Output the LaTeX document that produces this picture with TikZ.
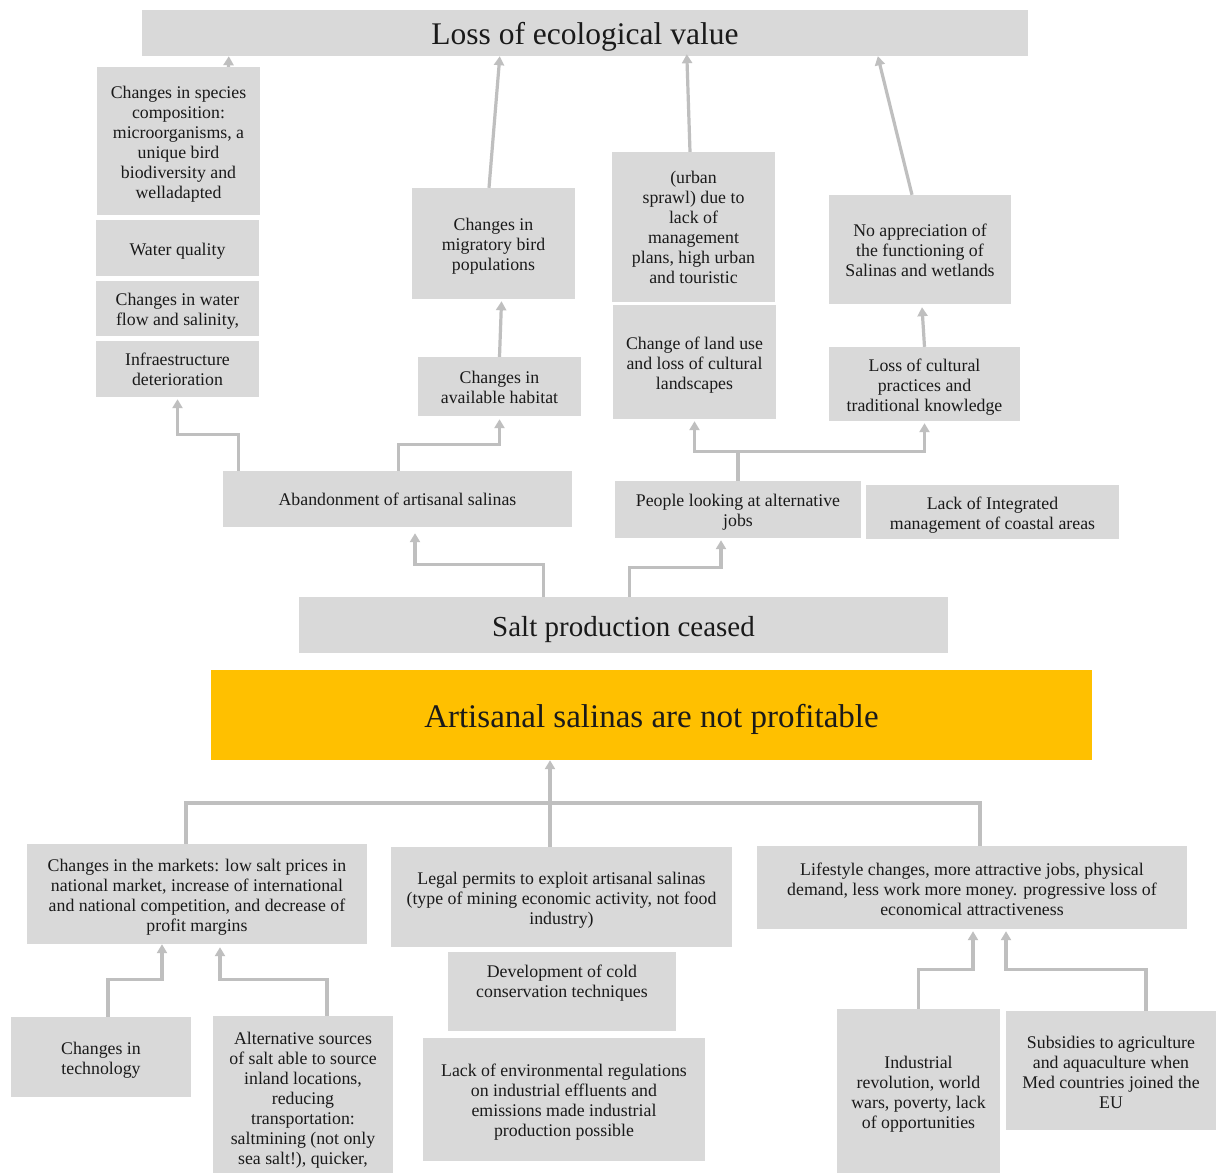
\documentclass[tikz,border=0pt]{standalone}
\usepackage{fontspec}
\setmainfont{Liberation Serif}
\usetikzlibrary{arrows.meta}
\definecolor{boxgray}{HTML}{D9D9D9}
\definecolor{linkgray}{HTML}{BFBFBF}
\definecolor{coreorange}{HTML}{FFC000}
\definecolor{ink}{HTML}{1A1A1A}
% invisible strut that gives the first text line some extra head room
\newcommand{\cardlift}[1][18.5]{\rule{0pt}{#1pt}}
\tikzset{
  card/.style={fill=boxgray, draw=none, inner sep=2pt, align=center, text=ink,
               font=\fontsize{17.8}{20}\selectfont},
  bigcard/.style={card, font=\fontsize{31.5}{34}\selectfont},
  corecard/.style={card, fill=coreorange, font=\fontsize{33}{36}\selectfont},
  wh/.style 2 args={minimum width=#1pt, minimum height=#2pt},
  link/.style={draw=linkgray, line width=3.2pt},
  flow/.style={link, -{Triangle[width=10pt,length=9pt]}},
}
\begin{document}
\begin{tikzpicture}[x=1pt, y=-1pt]
\useasboundingbox[fill=white] (0,0) rectangle (1216,1173);

% ---- top level consequence
\node[bigcard, wh={886}{46}] (eco) at (585,33) {\cardlift[30]Loss of ecological value};

% ---- left column of impacts
\node[card, wh={163}{148}] (species) at (178.5,141) {\cardlift Changes in species\\composition:\\microorganisms, a\\unique bird\\biodiversity and\\welladapted};
\node[card, wh={163}{56}] (waterq) at (177.5,248) {\cardlift Water quality};
\node[card, wh={163}{55}] (wflow) at (177.5,308.5) {\cardlift Changes in water\\flow and salinity,};
\node[card, wh={163}{56}] (infra) at (177.5,369) {\cardlift[14]Infraestructure\\deterioration};

% ---- birds and habitat
\node[card, wh={163}{111}] (migr) at (493.5,243.5) {\cardlift Changes in\\migratory bird\\populations};
\node[card, wh={163}{59}] (habitat) at (499.5,386.5) {\cardlift[14]Changes in\\available habitat};

% ---- land use
\node[card, wh={163}{150}] (sprawl) at (693.5,227) {\cardlift[14](urban\\sprawl) due to\\lack of\\management\\plans, high urban\\and touristic};
\node[card, wh={163}{114}] (landuse) at (694.5,362) {\cardlift Change of land use\\and loss of cultural\\landscapes};

% ---- cultural knowledge
\node[card, wh={182}{109}] (apprec) at (920,249.5) {\cardlift[14]No appreciation of\\the functioning of\\Salinas and wetlands};
\node[card, wh={191}{74}] (cultural) at (924.5,384) {\cardlift Loss of cultural\\practices and\\traditional knowledge};

% ---- direct effects of the halt
\node[card, wh={349}{56}] (aband) at (397.5,499) {\cardlift[14]Abandonment of artisanal salinas};
\node[card, wh={246}{57}] (people) at (738,509.5) {\cardlift People looking at alternative\\jobs};
\node[card, wh={253}{54}] (iczm) at (992.5,512) {\cardlift Lack of Integrated\\management of coastal areas};

\node[bigcard, font=\fontsize{29}{32}\selectfont, wh={649}{56}] (salt) at (623.5,625) {\cardlift[30]Salt production ceased};

% ---- core problem
\node[corecard, wh={881}{90}] (core) at (651.5,715) {\cardlift[33]Artisanal salinas are not profitable};

% ---- causes
\node[card, wh={340}{100}] (markets) at (197,894) {\cardlift Changes in the markets: low salt prices in\\national market, increase of international\\and national competition, and decrease of\\profit margins};
\node[card, wh={341}{100}] (legal) at (561.5,897) {\cardlift Legal permits to exploit artisanal salinas\\(type of mining economic activity, not food\\industry)};
\node[card, wh={430}{83}] (lifestyle) at (972,887.5) {\cardlift[16]Lifestyle changes, more attractive jobs, physical\\demand, less work more money. progressive loss of\\economical attractiveness};
\node[card, wh={228}{79}] (cold) at (562,991.5) {Development of cold\\conservation techniques\rule[-21pt]{0pt}{0pt}};
\node[card, wh={282}{123}] (envreg) at (564,1099.5) {\cardlift Lack of environmental regulations\\on industrial effluents and\\emissions made industrial\\production possible};

% ---- root causes
\node[card, wh={180}{80}] (tech) at (101,1057) {\cardlift Changes in\\technology};
\node[card, wh={180}{164}] (altsrc) at (303,1098) {\cardlift[16]Alternative sources\\of salt able to source\\inland locations,\\reducing\\transportation:\\saltmining (not only\\sea salt!), quicker,};
\node[card, wh={163}{164}] (indrev) at (918.5,1091) {\cardlift Industrial\\revolution, world\\wars, poverty, lack\\of opportunities};
\node[card, wh={210}{119}] (subs) at (1111,1070.5) {\cardlift[16]Subsidies to agriculture\\and aquaculture when\\Med countries joined the\\EU};

% ---- connectors into the top consequence
\draw[flow] ([xshift=50]species.north) -- ([xshift=87]eco.south west);
\draw[flow] ([xshift=-4.5]migr.north) -- ([xshift=358]eco.south west);
\draw[flow] ([xshift=-3.5]sprawl.north) -- ([xshift=545,yshift=2]eco.south west);
\draw[flow] ([xshift=-8]apprec.north) -- ([xshift=736]eco.south west);
\draw[flow] (habitat.north) -- ([xshift=8,yshift=-2]migr.south);
\draw[flow] (cultural.north) -- ([xshift=2,yshift=-3]apprec.south);

% ---- branches from the direct effects
\draw[flow] ([xshift=16]aband.north west) -- ++(0,-36) -| ([yshift=-2]infra.south);
\draw[flow] ([xshift=176]aband.north west) -- ++(0,-26) -| ([yshift=-3]habitat.south);
\draw[flow] (people.north) -- ++(0,-29) -| ([yshift=-2]landuse.south);
\draw[flow] (people.north) -- ++(0,-29) -| ([yshift=-2]cultural.south);

% ---- branches from the halt of production
\draw[flow] ([xshift=245]salt.north west) -- ++(0,-32) -| ([xshift=17.5,yshift=-6]aband.south);
\draw[flow] ([xshift=331]salt.north west) -- ++(0,-29) -| ([xshift=-17,yshift=-2]people.south);

% ---- causes gathered into the core problem
\coordinate (hub) at (550,803);
\draw[link] ([xshift=-11]markets.north) |- (hub);
\draw[link] ([xshift=8]lifestyle.north) |- (hub);
\draw[link] (legal.north -| hub) -- (hub);
\draw[flow] (hub) -- (core.south -| hub);

% ---- root causes into the market and lifestyle changes
\draw[flow] ([xshift=7]tech.north) -- ++(0,-37) -| ([xshift=-35]markets.south);
\draw[flow] ([xshift=24]altsrc.north) -- ++(0,-36) -| ([xshift=23,yshift=-3]markets.south);
\draw[flow] (indrev.north) -- ++(0,-39) -| ([xshift=1,yshift=-2]lifestyle.south);
\draw[flow] ([xshift=35]subs.north) -- ++(0,-41) -| ([xshift=34,yshift=-2]lifestyle.south);
\end{tikzpicture}
\end{document}
